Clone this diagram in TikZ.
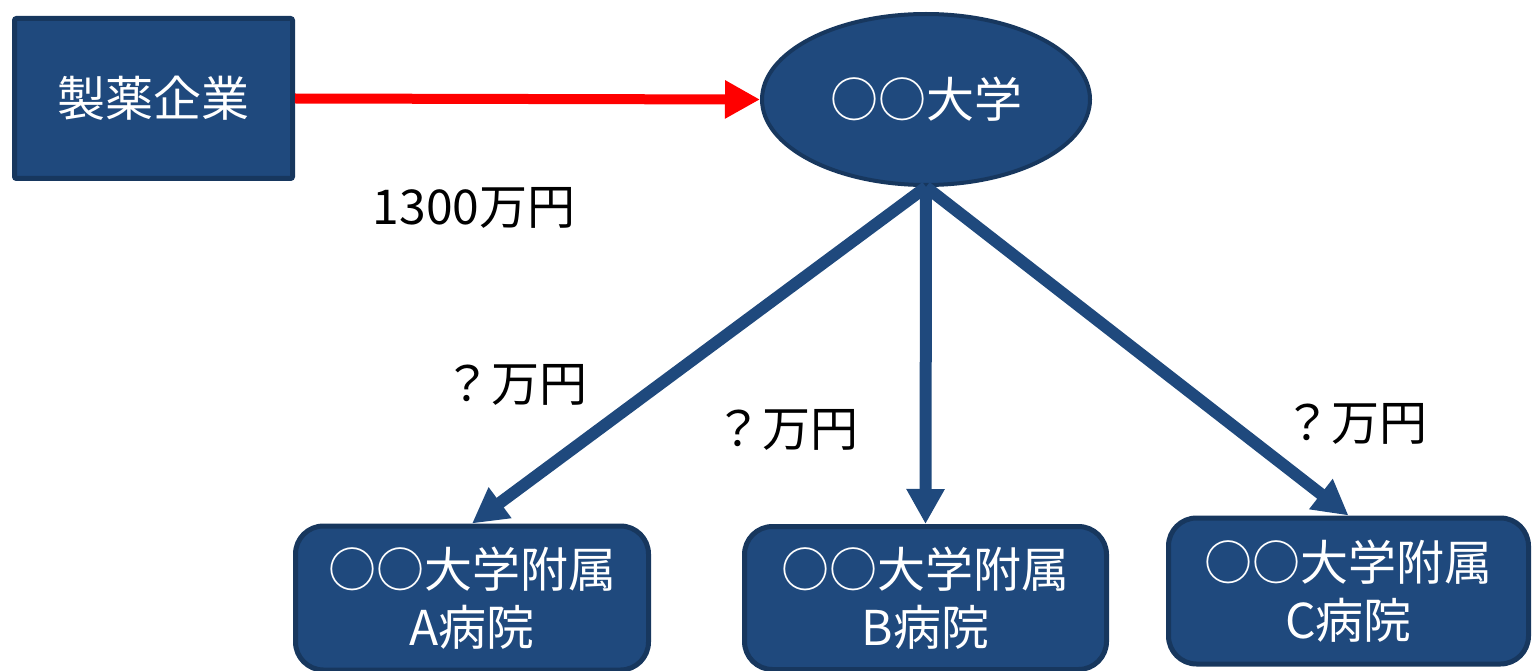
\documentclass[tikz,border=0pt]{standalone}
\usepackage{fontspec}
\setmainfont{Noto Sans CJK JP}
\usetikzlibrary{arrows.meta,shapes.geometric}
\definecolor{boxfill}{HTML}{1F497D}
\definecolor{boxline}{HTML}{17375E}
\begin{document}
\begin{tikzpicture}[x=1pt,y=-1pt,
  every node/.style={font=\fontsize{48}{58}\selectfont},
  blockbox/.style={draw=boxline, fill=boxfill, line width=5pt, text=white, inner sep=0pt, align=center},
  flow/.style={draw=boxfill, line width=12pt, -{Triangle[length=35pt,width=36pt]}},
  money/.style={text=black, inner sep=0pt}]
\useasboundingbox (0,0) rectangle (1532,671);
\node[blockbox, rectangle, rounded corners=2pt, minimum width=278pt, minimum height=160pt] (s) at (153.5,98.5) {製薬企業};
\node[blockbox, ellipse, line width=4pt, minimum width=328pt, minimum height=171pt] (u) at (926,99.5) {○○大学};
\node[blockbox, rectangle, rounded corners=28pt, minimum width=353pt, minimum height=144pt] (a) at (472,598) {○○大学附属\\A病院};
\node[blockbox, rectangle, rounded corners=28pt, minimum width=362pt, minimum height=143pt] (b) at (925.5,598) {○○大学附属\\B病院};
\node[blockbox, rectangle, rounded corners=28pt, minimum width=360pt, minimum height=146pt] (c) at (1348.5,591) {○○大学附属\\C病院};
\draw[red, line width=10pt, -{Triangle[length=35pt,width=36pt]}] (s.east) -- (u.west);
\draw[flow] (u.south) -- (a.north);
\draw[flow] (u.south) -- (b.north);
\draw[flow] (u.south) -- (c.north);
\node[money] (m0) at (474,208) {1300万円};
\node[money] (m1) at (515,385) {？万円};
\node[money] (m2) at (786,430) {？万円};
\node[money] (m3) at (1355,424) {？万円};
\end{tikzpicture}
\end{document}
